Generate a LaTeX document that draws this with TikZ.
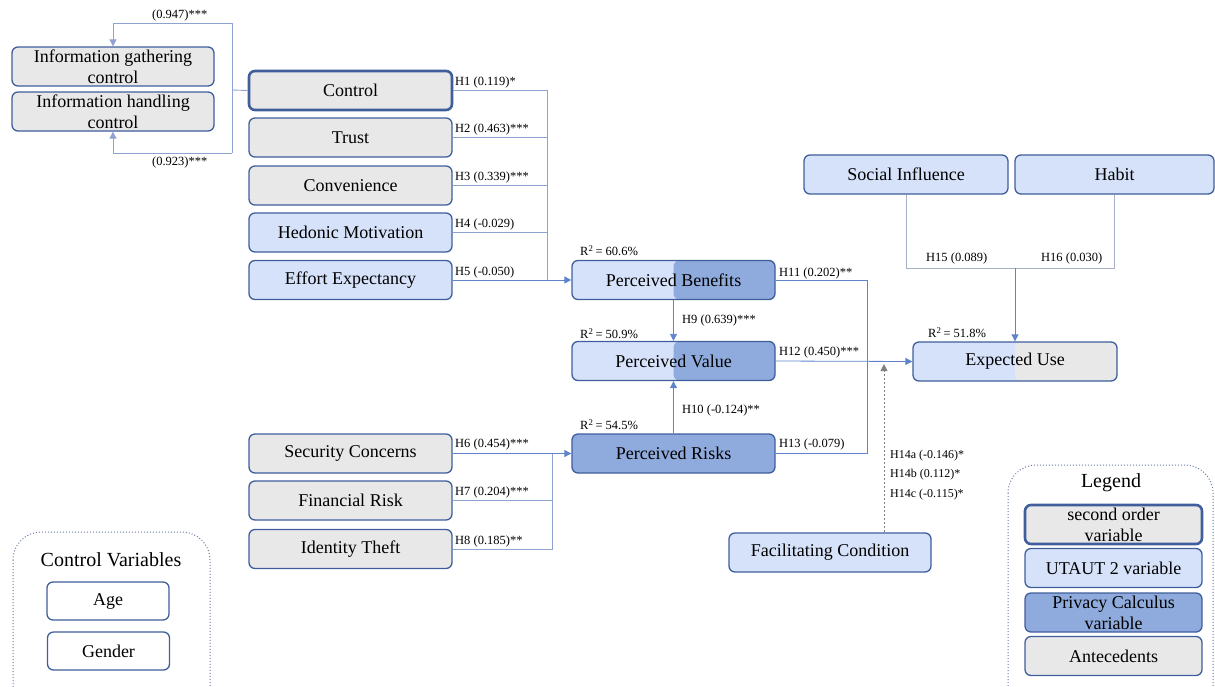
\documentclass[tikz,border=0pt]{standalone}
\usepackage{fontspec}
\setmainfont{LiberationSerif}[Extension=.ttf, UprightFont=*-Regular, BoldFont=*-Bold, ItalicFont=*-Italic, BoldItalicFont=*-BoldItalic]
\usetikzlibrary{arrows.meta}
\definecolor{bordc}{HTML}{3F5E9B}
\definecolor{grayf}{HTML}{E8E8E8}
\definecolor{lblue}{HTML}{D6E2FA}
\definecolor{dblue}{HTML}{8FAADC}
\definecolor{conc}{HTML}{5F84CC}
\definecolor{lconc}{HTML}{8FA3D2}
\definecolor{gconc}{HTML}{A9B1C6}
\definecolor{framec}{HTML}{6A7DA6}
\begin{document}
\begin{tikzpicture}[x=1pt,y=-1pt,
  box/.style={draw=bordc, line width=1.3pt, rounded corners=6pt, inner sep=0pt, align=center,
    font=\rmfamily\fontsize{18}{21}\selectfont, minimum height=39pt},
  graybox/.style={box, fill=grayf},
  ubox/.style={box, fill=lblue},
  pbox/.style={box, fill=dblue},
  sobox/.style={box, fill=grayf, line width=2.6pt},
  halfbox/.style={box, fill=lblue, path picture={\fill[#1] (path picture bounding box.north) rectangle (path picture bounding box.south east);}},
  con/.style={draw=conc, line width=0.8pt},
  lcon/.style={draw=lconc, line width=0.9pt},
  gcon/.style={draw=gconc, line width=1pt},
  tip/.style={-{Triangle[width=7pt,length=7pt]}},
  lab/.style={font=\rmfamily\fontsize{12.5}{14}\selectfont, inner sep=0pt, anchor=west},
  frame/.style={draw=framec, dotted, line width=1pt, rounded corners=28pt},
  ttl/.style={font=\rmfamily\fontsize{20}{22}\selectfont, inner sep=0pt},
]
\useasboundingbox (0,0) rectangle (1215,686);

% ---------- boxes ----------
\node[graybox, minimum width=202pt] (igc) at (113,66.5) {Information gathering\\control};
\node[graybox, minimum width=202pt] (ihc) at (113,111.5) {Information handling\\control};

\node[sobox, minimum width=203pt] (control) at (350.5,90.5) {Control};
\node[graybox, minimum width=203pt] (trust) at (350.5,137.5) {Trust};
\node[graybox, minimum width=203pt] (conv) at (350.5,185.5) {Convenience};
\node[ubox, minimum width=203pt] (hed) at (350.5,232.5) {Hedonic Motivation};
\node[ubox, minimum width=203pt] (eff) at (350.5,280) {Effort Expectancy};

\node[halfbox=dblue, minimum width=203pt] (pb) at (673.5,280) {Perceived Benefits};
\node[halfbox=dblue, minimum width=203pt] (pv) at (673.5,361) {Perceived Value};
\node[pbox, minimum width=203pt] (pr) at (673.5,453.5) {Perceived Risks};

\node[graybox, minimum width=203pt] (sc) at (350.5,453.5) {Security Concerns};
\node[graybox, minimum width=203pt] (fr) at (350.5,500.5) {Financial Risk};
\node[graybox, minimum width=203pt] (it) at (350.5,549) {Identity Theft};

\node[ubox, minimum width=204pt] (si) at (906,174.5) {Social Influence};
\node[ubox, minimum width=199pt] (habit) at (1114.5,174.5) {Habit};
\node[halfbox=grayf, minimum width=204pt] (eu) at (1015,361.5) {Expected Use};
\node[ubox, minimum width=202pt] (fc) at (830,552.5) {Facilitating Condition};

% ---------- control variables frame ----------
\draw[frame] (13,532) rectangle (210,715);
\node[ttl] (cvt) at (111,560) {Control Variables};
\node[box, fill=white, minimum width=122pt, minimum height=38pt] (age) at (108,601) {Age};
\node[box, fill=white, minimum width=122pt, minimum height=38pt] (gender) at (108.5,651) {Gender};

% ---------- legend ----------
\draw[frame] (1008,465) rectangle (1213,715);
\node[ttl] (legt) at (1111,483) {Legend};
\node[sobox, minimum width=177pt] (l1) at (1113.5,524.5) {second order\\variable};
\node[ubox, minimum width=177pt] (l2) at (1113.5,568) {UTAUT 2 variable};
\node[pbox, minimum width=177pt] (l3) at (1113.5,612.5) {Privacy Calculus\\variable};
\node[graybox, minimum width=177pt] (l4) at (1113.5,656) {Antecedents};

% ---------- second order loop ----------
\coordinate (jl) at (232,90);
\coordinate (jt) at (232,23);
\coordinate (jb) at (232,153);
\draw[lcon] (jl) -- (control.west);
\draw[lcon] (jl) -- (jt);
\draw[lcon] (jl) -- (jb);
\draw[lcon, tip] (jt) -| (igc.north);
\draw[lcon, tip] (jb) -| (ihc.south);
\node[lab] (l947) at (152,15) {(0.947)***};
\node[lab] (l923) at (152,162) {(0.923)***};

% ---------- H1-H5 ----------
\coordinate (v1) at (547,90.5);
\coordinate (v2) at (547,137.5);
\coordinate (v3) at (547,185.5);
\coordinate (v4) at (547,232.5);
\coordinate (v5) at (547,280);
\draw[lcon] (control.east) -- (v1) -- (v5);
\draw[lcon] (trust.east) -- (v2);
\draw[lcon] (conv.east) -- (v3);
\draw[lcon] (hed.east) -- (v4);
\draw[con, tip] (eff.east) -- (pb.west);
\node[lab] (h1) at (455,82) {H1 (0.119)*};
\node[lab] (h2) at (455,129) {H2 (0.463)***};
\node[lab] (h3) at (455,177) {H3 (0.339)***};
\node[lab] (h4) at (455,224) {H4 (-0.029)};
\node[lab] (h5) at (455,272) {H5 (-0.050)};

% ---------- H6-H8 ----------
\coordinate (w2) at (552,500.5);
\coordinate (w3) at (552,549);
\coordinate (w1) at (552,453.5);
\draw[con, tip] (sc.east) -- (pr.west);
\draw[lcon] (fr.east) -- (w2);
\draw[lcon] (it.east) -- (w3) -- (w1);
\node[lab] (h6) at (455,444) {H6 (0.454)***};
\node[lab] (h7) at (455,492) {H7 (0.204)***};
\node[lab] (h8) at (455,541) {H8 (0.185)**};

% ---------- H9, H10 ----------
\draw[con, tip] (pb.south) -- (pv.north);
\draw[con, tip] (pr.north) -- (pv.south);
\node[lab] (h9) at (682,320) {H9 (0.639)***};
\node[lab] (h10) at (682,410) {H10 (-0.124)**};
\node[lab] (r1) at (580,251) {R\textsuperscript{2}\,= 60.6\%};
\node[lab] (r2) at (580,334) {R\textsuperscript{2}\,= 50.9\%};
\node[lab] (r3) at (580,425) {R\textsuperscript{2}\,= 54.5\%};

% ---------- H11-H13 ----------
\coordinate (u1) at (867,280);
\coordinate (u3) at (867,453.5);
\draw[con] (pb.east) -- (u1) -- (u3) -- (pr.east);
\draw[con, tip] (pv.east) -- (eu.west);
\node[lab] (h11) at (779,273) {H11 (0.202)**};
\node[lab] (h12) at (779,352) {H12 (0.450)***};
\node[lab] (h13) at (779,444) {H13 (-0.079)};
\node[lab] (r4) at (928,333) {R\textsuperscript{2}\,= 51.8\%};

% ---------- H15, H16 ----------
\coordinate (s1) at (906,268);
\coordinate (s2) at (1114.5,268);
\coordinate (s3) at (1015,268);
\draw[gcon] (si.south) -- (s1) -- (s2) -- (habit.south);
\draw[con, tip] (s3) -- (eu.north);
\node[lab] (h15) at (926,258) {H15 (0.089)};
\node[lab] (h16) at (1041,258) {H16 (0.030)};

% ---------- H14 ----------
\coordinate (fx) at (884,0);
\coordinate (ftop) at (884,364);
\draw[draw=gray, line width=0.8pt, -{Triangle[width=7pt,length=7pt]}, dash pattern=on 2pt off 2pt] (fc.north -| fx) -- (ftop);
\node[lab, font=\rmfamily\fontsize{12}{14}\selectfont] (h14a) at (890,456) {H14a (-0.146)*};
\node[lab, font=\rmfamily\fontsize{12}{14}\selectfont] (h14b) at (890,475) {H14b (0.112)*};
\node[lab, font=\rmfamily\fontsize{12}{14}\selectfont] (h14c) at (890,495) {H14c (-0.115)*};
\end{tikzpicture}
\end{document}
